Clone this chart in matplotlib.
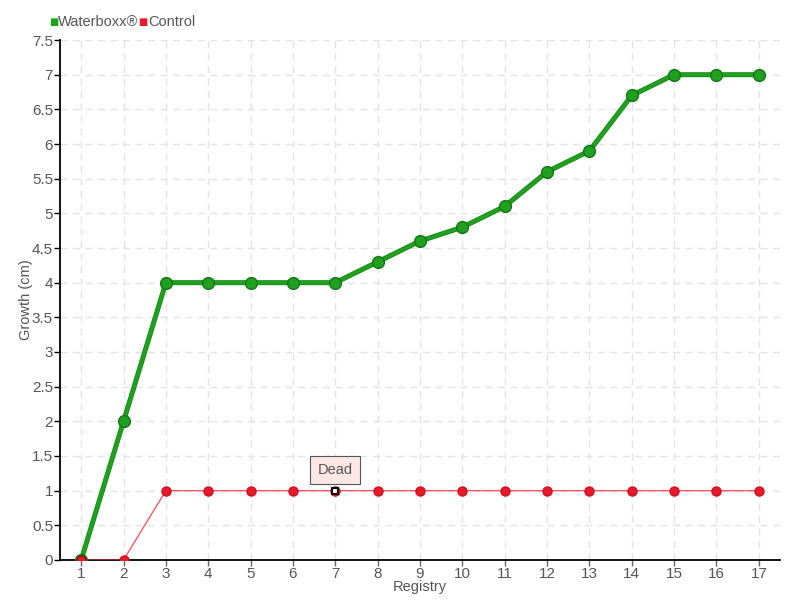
import matplotlib
matplotlib.use('Agg')
import matplotlib.pyplot as plt
import numpy as np

# Registry vs growth data
registry = list(range(1, 18))
waterboxx = [0, 2, 4, 4, 4, 4, 4, 4.3, 4.6, 4.8, 5.1, 5.6, 5.9, 6.7, 7, 7, 7]
control = [0, 0, 1, 1, 1, 1, 1, 1, 1, 1, 1, 1, 1, 1, 1, 1, 1]
dead_idx = 6  # registry 7

plt.rcParams['font.family'] = ['Liberation Sans', 'DejaVu Sans']

fig = plt.figure(figsize=(8, 6), dpi=100)
ax = fig.add_axes([0.075, 0.0667, 0.9, 0.8666])

green = '#1fa01f'
red = '#e8192c'
txt = '#555555'
fs = 10.5

ax.plot(registry, control, color='#f03040', lw=1, alpha=0.8, zorder=3)
ax.plot(registry, control, 'o', color=red, ms=6.5, mec='#d0101f', zorder=4)
ax.plot(registry, waterboxx, color='#178a17', lw=3.6, zorder=5)
ax.plot(registry, waterboxx, color=green, lw=2.4, zorder=5)
ax.plot(registry, waterboxx, 'o', color=green, ms=8.5, mec='#157515', mew=1, zorder=6)
ax.plot(registry[0], control[0], 'o', color=red, ms=6.5, mec='#8a1010', zorder=7)

# Dead marker
ax.plot(registry[dead_idx], control[dead_idx], 's', color='white', mec='black',
        ms=4.5, mew=1.5, zorder=8)
ax.annotate('Dead', (registry[dead_idx], control[dead_idx]),
            xytext=(0, 15), textcoords='offset points', ha='center', va='center',
            fontsize=fs, color=txt,
            bbox=dict(boxstyle='square,pad=0.5', fc='#fde6e6', ec='#555555', lw=0.8),
            zorder=9)

ax.set_xlim(0.5, 17.5)
ax.set_ylim(0, 7.5)
ax.set_xticks(registry)
yt = np.arange(0, 7.6, 0.5)
ax.set_yticks(yt)
ax.set_yticklabels(['%g' % v for v in yt])
ax.tick_params(colors=txt, labelsize=fs + 0.5, length=4, width=1)
ax.tick_params(axis='x', color='#666666', pad=1)
ax.tick_params(axis='y', color='black', pad=1)

ax.grid(True, color='#e3e3e3', ls=(0, (5, 4)), lw=1)
ax.set_axisbelow(True)
for s in ['top', 'right']:
    ax.spines[s].set_visible(False)
ax.spines['left'].set_linewidth(1.3)
ax.spines['bottom'].set_linewidth(1.3)

ax.set_xlabel('Registry', color=txt, fontsize=fs, labelpad=-1)
ax.set_ylabel('Growth (cm)', color=txt, fontsize=fs, labelpad=-1)

# Legend
fig.text(0.061, 0.963, '■', color=green, fontsize=7, va='center', family=['DejaVu Sans'])
fig.text(0.073, 0.963, 'Waterboxx®', color=txt, fontsize=fs, va='center')
fig.text(0.173, 0.963, '■', color=red, fontsize=7, va='center', family=['DejaVu Sans'])
fig.text(0.185, 0.963, 'Control', color=txt, fontsize=fs, va='center')

fig.savefig('out.png', dpi=100)
